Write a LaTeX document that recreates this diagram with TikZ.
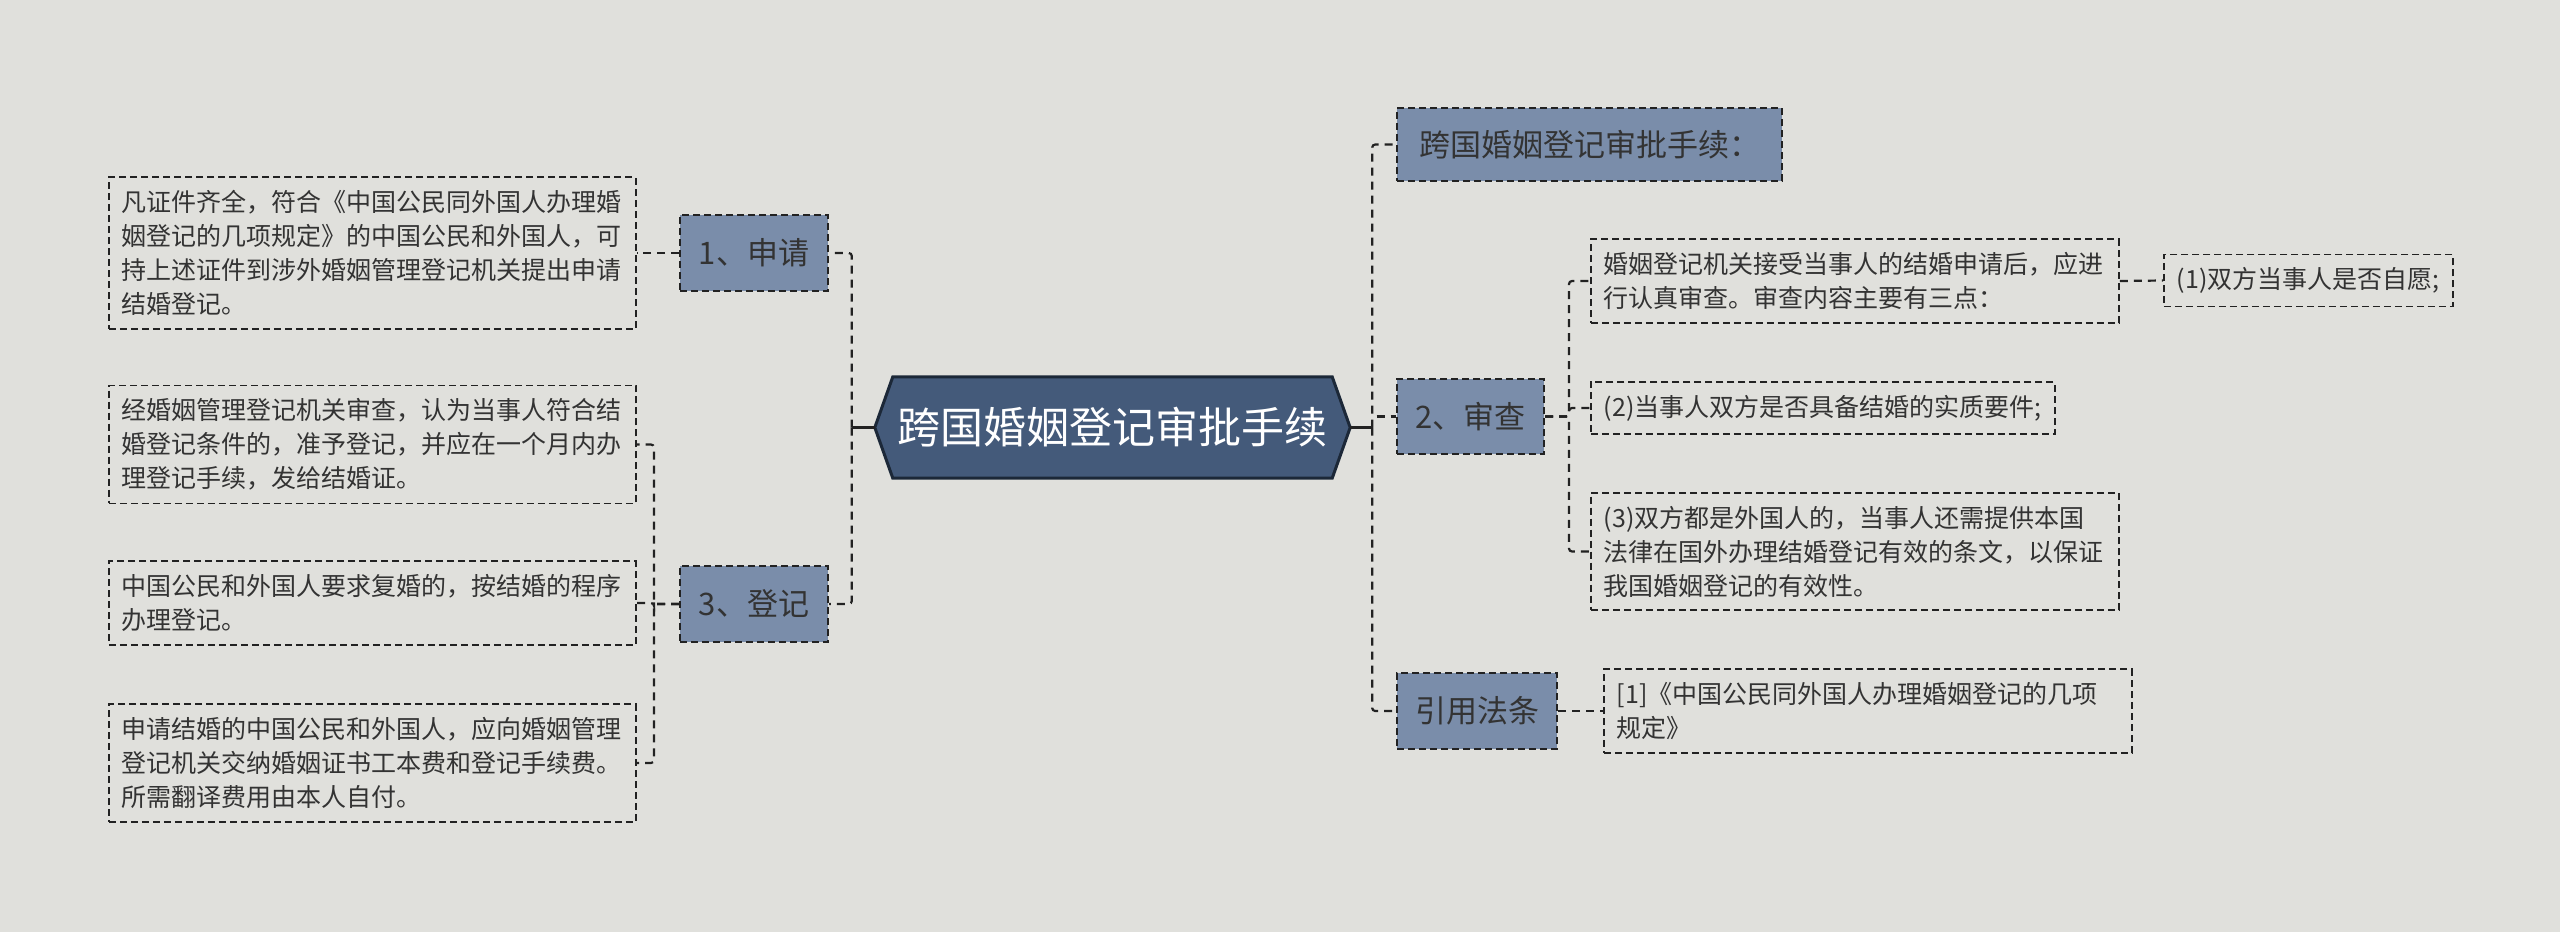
\documentclass[tikz,border=0pt]{standalone}
\usepackage{fontspec}
\setmainfont{Noto Sans CJK SC}
\definecolor{bg}{HTML}{E0E0DC}
\definecolor{rootfill}{HTML}{445A7A}
\definecolor{rootline}{HTML}{1C2838}
\definecolor{lvfill}{HTML}{7A8DAA}
\definecolor{txt}{HTML}{333333}
\definecolor{ln}{HTML}{222222}
\tikzset{
  lvone/.style={draw=ln, fill=lvfill, line width=2pt, dash pattern=on 7pt off 4pt,
    font=\fontsize{31}{36}\selectfont, text=txt, inner sep=0pt, minimum height=76pt},
  leafbox/.style={draw=ln, line width=1.8pt, dash pattern=on 7pt off 4pt,
    font=\fontsize{25}{34}\selectfont, text=txt, inner xsep=13pt, inner ysep=13pt, align=left},
  conn/.style={draw=ln, line width=2.2pt, dash pattern=on 8pt off 6pt, rounded corners=3pt},
  solidconn/.style={draw=ln, line width=3pt},
}
\begin{document}
\begin{tikzpicture}[x=1pt,y=-1pt]
\fill[bg] (0,0) rectangle (2560,932);
\useasboundingbox (0,0) rectangle (2560,932);

% root
\node[minimum width=439pt, minimum height=101pt, inner sep=0pt] (root) at (1112.5,427.5) {};
\coordinate (rootL) at ([xshift=-18pt]root.west);
\coordinate (rootR) at ([xshift=18pt]root.east);
\filldraw[fill=rootfill, draw=rootline, line width=3pt, line join=miter]
  (root.north west) -- (root.north east) -- (rootR) -- (root.south east) -- (root.south west) -- (rootL) -- cycle;
\node[text=white, font=\fontsize{43}{48}\selectfont, inner sep=0pt] (roottext) at (root.center) {跨国婚姻登记审批手续};

% left level 1
\node[lvone, minimum width=148pt, anchor=east] (sq) at (829,253) {1、申请};
\node[lvone, minimum width=148pt, anchor=east] (dj) at (829,604) {3、登记};

% left leaves
\node[leafbox, text width=501pt, anchor=west] (t1) at (108,253) {凡证件齐全，符合《中国公民同外国人办理婚\\姻登记的几项规定》的中国公民和外国人，可\\持上述证件到涉外婚姻管理登记机关提出申请\\结婚登记。};
\node[leafbox, text width=501pt, anchor=west] (t2) at (108,444.5) {经婚姻管理登记机关审查，认为当事人符合结\\婚登记条件的，准予登记，并应在一个月内办\\理登记手续，发给结婚证。};
\node[leafbox, text width=501pt, anchor=west] (t3) at (108,603) {中国公民和外国人要求复婚的，按结婚的程序\\办理登记。};
\node[leafbox, text width=501pt, anchor=west] (t4) at (108,763) {申请结婚的中国公民和外国人，应向婚姻管理\\登记机关交纳婚姻证书工本费和登记手续费。\\所需翻译费用由本人自付。};

% right level 1
\node[lvone, minimum width=385pt, minimum height=73pt, anchor=west] (gj) at (1396,144.5) {跨国婚姻登记审批手续：};
\node[lvone, minimum width=147pt, minimum height=75pt, anchor=west] (sc) at (1396,416.5) {2、审查};
\node[lvone, minimum width=160pt, anchor=west] (yy) at (1396,711) {引用法条};

% right leaves
\node[leafbox, text width=502pt, anchor=west] (ra) at (1590,281) {婚姻登记机关接受当事人的结婚申请后，应进\\行认真审查。审查内容主要有三点：};
\node[leafbox, anchor=west] (rb) at (1590,408) {(2)当事人双方是否具备结婚的实质要件;};
\node[leafbox, text width=502pt, anchor=west] (rc) at (1590,551.5) {(3)双方都是外国人的，当事人还需提供本国\\法律在国外办理结婚登记有效的条文，以保证\\我国婚姻登记的有效性。};
\node[leafbox, anchor=west] (rg) at (2163,280.5) {(1)双方当事人是否自愿;};
\node[leafbox, text width=502pt, anchor=west] (rl) at (1603,711) {[1]《中国公民同外国人办理婚姻登记的几项\\规定》};

% connectors left
\draw[solidconn] (rootL) -- ++(-23pt,0);
\draw[conn] ([xshift=-23pt]rootL) |- (sq.east);
\draw[conn] ([xshift=-23pt]rootL) |- (dj.east);
\draw[conn] (sq.west) -- (t1.east);
\draw[conn] (dj.west) -- ++(-25pt,0) |- (t2.east);
\draw[conn] (dj.west) -- ++(-25pt,0) |- (t3.east);
\draw[conn] (dj.west) -- ++(-25pt,0) |- (t4.east);

% connectors right
\draw[solidconn] (rootR) -- ++(22pt,0);
\draw[conn] ([xshift=22pt]rootR) |- (gj.west);
\draw[conn] ([xshift=22pt]rootR) |- (sc.west);
\draw[conn] ([xshift=22pt]rootR) |- (yy.west);
\draw[conn] (sc.east) -- ++(24pt,0) |- (ra.west);
\draw[conn] (sc.east) -- ++(24pt,0) |- (rb.west);
\draw[conn] (sc.east) -- ++(24pt,0) |- (rc.west);
\draw[conn] (ra.east) -- (rg.west);
\draw[conn] (yy.east) -- (rl.west);
\end{tikzpicture}
\end{document}
